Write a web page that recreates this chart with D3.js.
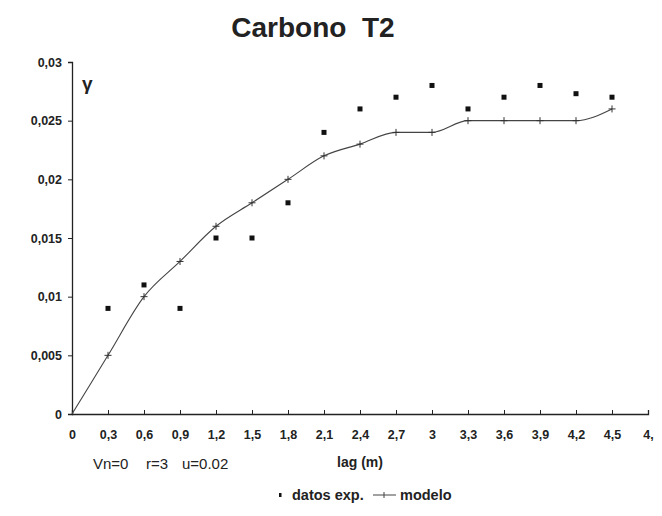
<!DOCTYPE html>
<html><head><meta charset="utf-8">
<script src="https://cdn.jsdelivr.net/npm/d3@7/dist/d3.min.js"></script>
<style>body{margin:0;background:#fff}svg{font-family:"Liberation Sans",Arial,sans-serif}</style>
</head><body><svg id="c" width="662" height="516"></svg>
<script>
const lags = [0.3,0.6,0.9,1.2,1.5,1.8,2.1,2.4,2.7,3.0,3.3,3.6,3.9,4.2,4.5];
const expValues = [0.009,0.011,0.009,0.015,0.015,0.018,0.024,0.026,0.027,0.028,0.026,0.027,0.028,0.0273,0.027];
const modelLags = [0,0.3,0.6,0.9,1.2,1.5,1.8,2.1,2.4,2.7,3.0,3.3,3.6,3.9,4.2,4.5];
const modelValues = [0,0.005,0.010,0.013,0.016,0.018,0.020,0.022,0.023,0.024,0.024,0.025,0.025,0.025,0.025,0.026];
const xTicks = [0,0.3,0.6,0.9,1.2,1.5,1.8,2.1,2.4,2.7,3.0,3.3,3.6,3.9,4.2,4.5,4.8];
const xTickLabels = ["0","0,3","0,6","0,9","1,2","1,5","1,8","2,1","2,4","2,7","3","3,3","3,6","3,9","4,2","4,5","4,"];
const yTicks = [0,0.005,0.01,0.015,0.02,0.025,0.03];
const yTickLabels = ["0","0,005","0,01","0,015","0,02","0,025","0,03"];

const svg = d3.select("#c");
const x = d3.scaleLinear().domain([0,4.8]).range([72,648]);
const y = d3.scaleLinear().domain([0,0.03]).range([414,62]);
const ink = "#222";

svg.append("text").attr("x",313).attr("y",37).attr("text-anchor","middle")
  .attr("font-size",28).attr("font-weight","bold").attr("fill",ink)
  .style("white-space","pre").text("Carbono  T2");

const ya = svg.append("g").attr("transform","translate(72,0)")
  .call(d3.axisLeft(y).tickValues(yTicks).tickSize(4).tickFormat((d,i)=>yTickLabels[i]));
const xa = svg.append("g").attr("transform","translate(0,414)")
  .call(d3.axisBottom(x).tickValues(xTicks).tickSize(-4).tickFormat((d,i)=>xTickLabels[i]));
[ya,xa].forEach(g=>{
  g.selectAll("path").attr("stroke",ink).attr("stroke-width",1.3);
  g.selectAll("line").attr("stroke",ink);
  g.selectAll("text").attr("font-size",12.5).attr("font-weight","bold").attr("fill",ink);
});
ya.selectAll("text").attr("dx",-3);
xa.selectAll("text").attr("y",16.5);

svg.append("text").attr("x",82).attr("y",90).attr("font-size",19).attr("font-weight","bold")
  .attr("fill",ink).text("γ");

// model line
const mdata = modelLags.map((l,i)=>[l,modelValues[i]]);
svg.append("path").datum(mdata)
  .attr("d",d3.line().x(d=>x(d[0])).y(d=>y(d[1])).curve(d3.curveMonotoneX))
  .attr("fill","none").attr("stroke","#444").attr("stroke-width",1.1);
const plus = svg.append("g").attr("stroke","#333").attr("stroke-width",1);
mdata.slice(1).forEach(d=>{
  const cx=x(d[0]), cy=y(d[1]);
  plus.append("line").attr("x1",cx-3.5).attr("x2",cx+3.5).attr("y1",cy).attr("y2",cy);
  plus.append("line").attr("x1",cx).attr("x2",cx).attr("y1",cy-3.5).attr("y2",cy+3.5);
});

// experimental points
svg.append("g").selectAll("rect").data(lags.map((l,i)=>[l,expValues[i]])).join("rect")
  .attr("x",d=>x(d[0])-2.5).attr("y",d=>y(d[1])-2.5).attr("width",5).attr("height",5)
  .attr("fill","#111");

const note = svg.append("g").attr("font-size",15).attr("fill",ink);
note.append("text").attr("x",93).attr("y",469).text("Vn=0");
note.append("text").attr("x",146).attr("y",469).text("r=3");
note.append("text").attr("x",182).attr("y",469).text("u=0.02");
svg.append("text").attr("x",360).attr("y",467).attr("text-anchor","middle").attr("font-size",14)
  .attr("font-weight","bold").attr("fill",ink).text("lag (m)");

// legend
const ly = 495;
svg.append("rect").attr("x",279).attr("y",ly-2).attr("width",2.5).attr("height",4).attr("fill","#111");
svg.append("text").attr("x",292).attr("y",ly+5).attr("font-size",14.5).attr("font-weight","bold")
  .attr("fill",ink).text("datos exp.");
svg.append("line").attr("x1",373).attr("x2",396).attr("y1",ly).attr("y2",ly).attr("stroke","#444");
svg.append("line").attr("x1",384).attr("x2",384).attr("y1",ly-3).attr("y2",ly+3).attr("stroke","#444");
svg.append("text").attr("x",400).attr("y",ly+5).attr("font-size",14.5).attr("font-weight","bold")
  .attr("fill",ink).text("modelo");
</script></body></html>
